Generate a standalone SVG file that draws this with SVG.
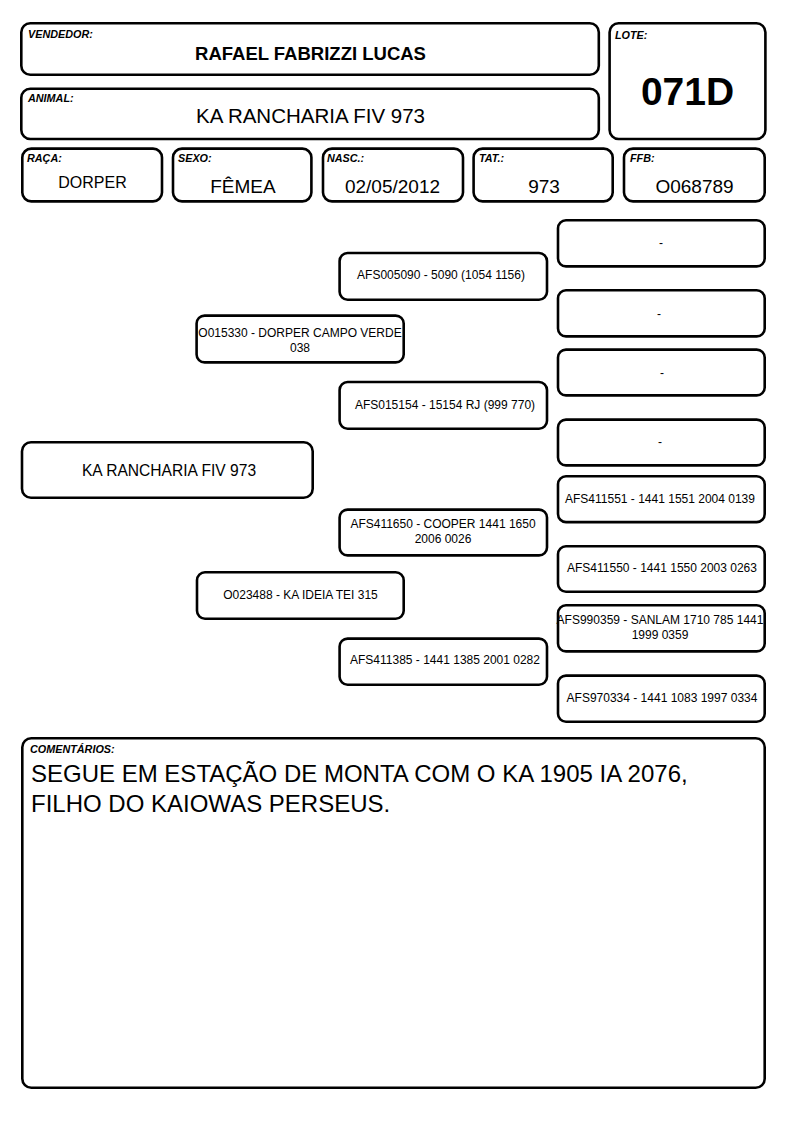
<svg xmlns="http://www.w3.org/2000/svg" width="794" height="1123" viewBox="0 0 794 1123">
<style>
.b{fill:#fff;stroke:#000;stroke-width:2.6}
.lbl{font-family:"Liberation Sans",Arial,sans-serif;font-size:10.8px;font-weight:bold;font-style:italic;fill:#000}
.val{font-family:"Liberation Sans",Arial,sans-serif;fill:#000;text-anchor:middle}
.p{font-family:"Liberation Sans",Arial,sans-serif;font-size:12px;fill:#000;text-anchor:middle}
</style>
<rect width="794" height="1123" fill="#fff"/>
<g id="vendedor">
<rect class="b" x="21.3" y="23.3" width="577.5" height="51.5" rx="9"/>
<text class="lbl" x="28" y="38">VENDEDOR:</text>
<text class="val" x="310.5" y="60" font-size="18.5" font-weight="bold">RAFAEL FABRIZZI LUCAS</text>
</g>
<g id="animal">
<rect class="b" x="21.3" y="88.7" width="577.5" height="50.3" rx="9"/>
<text class="lbl" x="28" y="102">ANIMAL:</text>
<text class="val" x="310.5" y="123" font-size="20.5">KA RANCHARIA FIV 973</text>
</g>
<g id="lote">
<rect class="b" x="609.6" y="23.3" width="155.8" height="115.7" rx="9"/>
<text class="lbl" x="615" y="39">LOTE:</text>
<text class="val" x="687.5" y="105" font-size="39" font-weight="bold">071D</text>
</g>
<g id="raca">
<rect class="b" x="22.3" y="148.6" width="139.7" height="52.8" rx="9"/>
<text class="lbl" x="27" y="162">RAÇA:</text>
<text class="val" x="92.5" y="188" font-size="16">DORPER</text>
</g>
<g id="sexo">
<rect class="b" x="173" y="148.6" width="138.4" height="52.8" rx="9"/>
<text class="lbl" x="178" y="162">SEXO:</text>
<text class="val" x="243" y="193" font-size="19">FÊMEA</text>
</g>
<g id="nasc">
<rect class="b" x="323" y="148.6" width="140" height="52.8" rx="9"/>
<text class="lbl" x="327" y="162">NASC.:</text>
<text class="val" x="392.5" y="193" font-size="19">02/05/2012</text>
</g>
<g id="tat">
<rect class="b" x="473.6" y="148.6" width="139.1" height="52.8" rx="9"/>
<text class="lbl" x="479" y="162">TAT.:</text>
<text class="val" x="544" y="193" font-size="19">973</text>
</g>
<g id="ffb">
<rect class="b" x="624" y="148.6" width="140.7" height="52.8" rx="9"/>
<text class="lbl" x="630" y="162">FFB:</text>
<text class="val" x="694.5" y="193" font-size="19">O068789</text>
</g>
<g id="connectors"></g>
<g id="p0">
<rect class="b" x="22" y="442.3" width="290.7" height="55.4" rx="9"/>
<text class="val" x="169" y="476" font-size="15.6">KA RANCHARIA FIV 973</text>
</g>
<g id="p1a">
<rect class="b" x="196.6" y="315.6" width="207.1" height="46.8" rx="8"/>
<text class="p" x="300" y="337">O015330 - DORPER CAMPO VERDE</text>
<text class="p" x="300" y="352">038</text>
</g>
<g id="p1b">
<rect class="b" x="197" y="572.3" width="206.7" height="46.4" rx="8"/>
<text class="p" x="300.5" y="599">O023488 - KA IDEIA TEI 315</text>
</g>
<g id="p2a">
<rect class="b" x="339.6" y="253" width="207.4" height="46.7" rx="8"/>
<text class="p" x="441" y="279">AFS005090 - 5090 (1054 1156)</text>
</g>
<g id="p2b">
<rect class="b" x="339.6" y="382" width="207.4" height="46.7" rx="8"/>
<text class="p" x="445" y="409">AFS015154 - 15154 RJ (999 770)</text>
</g>
<g id="p2c">
<rect class="b" x="339.6" y="509.6" width="207.4" height="45.8" rx="8"/>
<text class="p" x="443" y="528">AFS411650 - COOPER 1441 1650</text>
<text class="p" x="443" y="543">2006 0026</text>
</g>
<g id="p2d">
<rect class="b" x="339.6" y="638.6" width="207.4" height="46.1" rx="8"/>
<text class="p" x="445" y="664">AFS411385 - 1441 1385 2001 0282</text>
</g>
<g id="p3a">
<rect class="b" x="558" y="220.3" width="206.7" height="46.1" rx="8"/>
<text class="p" x="661" y="247">-</text>
</g>
<g id="p3b">
<rect class="b" x="558" y="290.3" width="206.7" height="46.1" rx="8"/>
<text class="p" x="659" y="318">-</text>
</g>
<g id="p3c">
<rect class="b" x="558" y="349.6" width="206.7" height="45.8" rx="8"/>
<text class="p" x="662" y="377">-</text>
</g>
<g id="p3d">
<rect class="b" x="558" y="419.6" width="206.7" height="45.8" rx="8"/>
<text class="p" x="660" y="446">-</text>
</g>
<g id="p3e">
<rect class="b" x="558" y="476.3" width="206.7" height="45.8" rx="8"/>
<text class="p" x="660" y="503">AFS411551 - 1441 1551 2004 0139</text>
</g>
<g id="p3f">
<rect class="b" x="558" y="546.3" width="206.7" height="45.4" rx="8"/>
<text class="p" x="662" y="572">AFS411550 - 1441 1550 2003 0263</text>
</g>
<g id="p3g">
<rect class="b" x="558" y="605.3" width="206.7" height="46.1" rx="8"/>
<text class="p" x="660" y="624">AFS990359 - SANLAM 1710 785 1441</text>
<text class="p" x="660" y="639">1999 0359</text>
</g>
<g id="p3h">
<rect class="b" x="558" y="675.6" width="206.7" height="46.1" rx="8"/>
<text class="p" x="662" y="702">AFS970334 - 1441 1083 1997 0334</text>
</g>
<g id="comentarios">
<rect class="b" x="22.3" y="738.3" width="742.4" height="349.4" rx="9"/>
<text class="lbl" x="30" y="753">COMENTÁRIOS:</text>
<text x="31" y="782" font-family="'Liberation Sans',Arial,sans-serif" font-size="24" fill="#000">SEGUE EM ESTAÇÃO DE MONTA COM O KA 1905 IA 2076,</text>
<text x="31" y="812" font-family="'Liberation Sans',Arial,sans-serif" font-size="24" fill="#000">FILHO DO KAIOWAS PERSEUS.</text>
</g>
</svg>
